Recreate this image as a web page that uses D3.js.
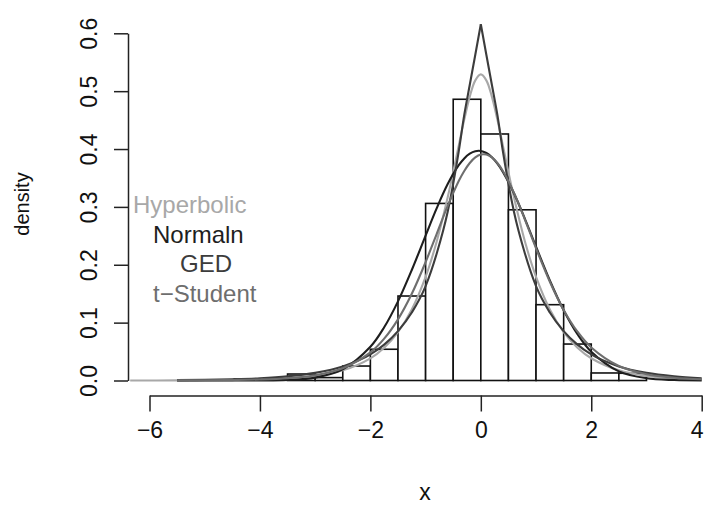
<!DOCTYPE html>
<html><head><meta charset="utf-8">
<script src="https://cdn.jsdelivr.net/npm/d3@7"></script>
<style>body{margin:0;background:#fff}svg{display:block}text{font-family:"Liberation Sans",Arial,sans-serif}</style>
</head><body>
<svg id="c" width="706" height="507"></svg>
<script>
// Histogram (bin width 0.5)
const binStart   = [-3.5, -3.0, -2.5, -2.0, -1.5, -1.0, -0.5, 0.0, 0.5, 1.0, 1.5, 2.0, 2.5];
const binDensity = [0.0112, 0.0050, 0.025, 0.054, 0.146, 0.306, 0.486, 0.426, 0.295, 0.131, 0.063, 0.013, 0.0125];
const binWidth = 0.5;

// Fitted densities
const xGrid = [-5.5,-5,-4.5,-4,-3.5,-3,-2.5,-2,-1.75,-1.5,-1.25,-1,-0.8,-0.6,-0.4,-0.3,-0.2,-0.1,0,0.1,0.2,0.3,0.4,0.6,0.8,1,1.25,1.5,1.75,2,2.5,3,3.5,4];
const normalY = [0,0,0.00002,0.00016,0.0010,0.0050,0.0193,0.0582,0.0920,0.1368,0.1910,0.2504,0.2974,0.3394,0.3721,0.3838,0.3920,0.3963,0.3967,0.3931,0.3857,0.3747,0.3604,0.3235,0.2790,0.2312,0.1728,0.1213,0.0800,0.0496,0.0158,0.0039,0.00075,0.00011];
const tStudentY = [0.0002,0.0004,0.0009,0.0018,0.0040,0.0091,0.0211,0.0485,0.0723,0.1057,0.1499,0.2046,0.2531,0.3017,0.3447,0.3621,0.3759,0.3855,0.3904,0.3904,0.3855,0.3759,0.3621,0.3242,0.2777,0.2285,0.1707,0.1220,0.0844,0.0570,0.0250,0.0108,0.0047,0.0021];
const gedY = [0.00066,0.0012,0.0022,0.0039,0.0072,0.0132,0.0243,0.0450,0.0620,0.0853,0.1175,0.1631,0.2191,0.2916,0.396,0.459,0.511,0.563,0.6156,0.563,0.511,0.459,0.396,0.2916,0.2191,0.1631,0.1175,0.0853,0.0620,0.0450,0.0243,0.0132,0.0072,0.0039];
const hypX = [-6.35].concat(xGrid);
const hypY = [0.00004,0.00015,0.00033,0.00073,0.0016,0.0036,0.0079,0.0175,0.0384,0.0567,0.0837,0.1229,0.1791,0.2398,0.3165,0.4058,0.4508,0.4905,0.5187,0.529,0.5187,0.4905,0.4508,0.4058,0.3165,0.2398,0.1791,0.1229,0.0837,0.0567,0.0384,0.0175,0.0079,0.0036,0.0016];

const xTicks = [-6,-4,-2,0,2,4];
const yTicks = [0,0.1,0.2,0.3,0.4,0.5,0.6];
const legendLabels = ["Hyperbolic","Normaln","GED","t\u2212Student"];
const legendColors = ["#a8a8a8","#1e1e1e","#3c3c3c","#6e6e6e"];

const svg = d3.select("#c");
const x = d3.scaleLinear().domain([-6,4]).range([149.5,701.7]);
const y = d3.scaleLinear().domain([0,0.6]).range([380.5,33.3]);

// bars
svg.append("g").selectAll("rect").data(binStart).join("rect")
  .attr("x", d => x(d)).attr("width", d => x(d+binWidth)-x(d))
  .attr("y", (d,i) => y(binDensity[i])).attr("height", (d,i) => y(0)-y(binDensity[i]))
  .attr("fill","#fff").attr("stroke","#111").attr("stroke-width",1.6);

const line = d3.line().x(d=>x(d[0])).y(d=>y(d[1]));
function draw(xs, ys, color, curve){
  svg.append("path").datum(xs.map((v,i)=>[v,ys[i]]))
    .attr("d", line.curve(curve)).attr("fill","none")
    .attr("stroke",color).attr("stroke-width",2.1).attr("stroke-linejoin","round");
}
draw(hypX, hypY, legendColors[0], d3.curveCatmullRom);
draw(xGrid, normalY, legendColors[1], d3.curveCatmullRom);
const pk = xGrid.indexOf(0);
draw(xGrid.slice(0,pk+1), gedY.slice(0,pk+1), legendColors[2], d3.curveMonotoneX);
draw(xGrid.slice(pk), gedY.slice(pk), legendColors[2], d3.curveMonotoneX);
draw(xGrid, tStudentY, legendColors[3], d3.curveCatmullRom);

// axes
const ax = svg.append("g").attr("transform","translate(0,395.5)")
  .call(d3.axisBottom(x).tickValues(xTicks).tickSize(16).tickSizeOuter(0).tickPadding(2)
        .tickFormat(d => d < 0 ? "\u2212"+Math.abs(d) : d));
ax.select(".domain").attr("stroke","#222").attr("stroke-width",1.5);
ax.selectAll(".tick line").attr("stroke","#222").attr("stroke-width",1.5);
ax.selectAll(".tick text").attr("font-size",23).attr("fill","#111").attr("dy","1.05em")
  .attr("x", d => d === 4 ? -5 : 0);

const ay = svg.append("g").attr("transform","translate(128,0)")
  .call(d3.axisLeft(y).tickValues(yTicks).tickSize(14).tickSizeOuter(0)
        .tickFormat(d3.format(".1f")));
ay.select(".domain").attr("stroke","#222").attr("stroke-width",1.5);
ay.selectAll(".tick line").attr("stroke","#222").attr("stroke-width",1.5);
ay.selectAll(".tick text").attr("font-size",23).attr("fill","#111")
  .attr("x",null).attr("dy",null).attr("text-anchor","middle")
  .attr("transform","translate(-31,0) rotate(-90)");

// axis titles
svg.append("text").attr("x",425).attr("y",500).attr("text-anchor","middle")
  .attr("font-size",23).attr("fill","#111").text("x");
svg.append("text").attr("transform","translate(29,204) rotate(-90)").attr("text-anchor","middle")
  .attr("font-size",20).attr("fill","#111").text("density");

// legend
const legX = [133,153,180,153];
svg.append("g").selectAll("text").data(legendLabels).join("text")
  .attr("x",(d,i)=>legX[i]).attr("y",(d,i)=>213+i*29.5)
  .attr("font-size",24).attr("fill",(d,i)=>legendColors[i]).text(d=>d);
</script>
</body></html>
